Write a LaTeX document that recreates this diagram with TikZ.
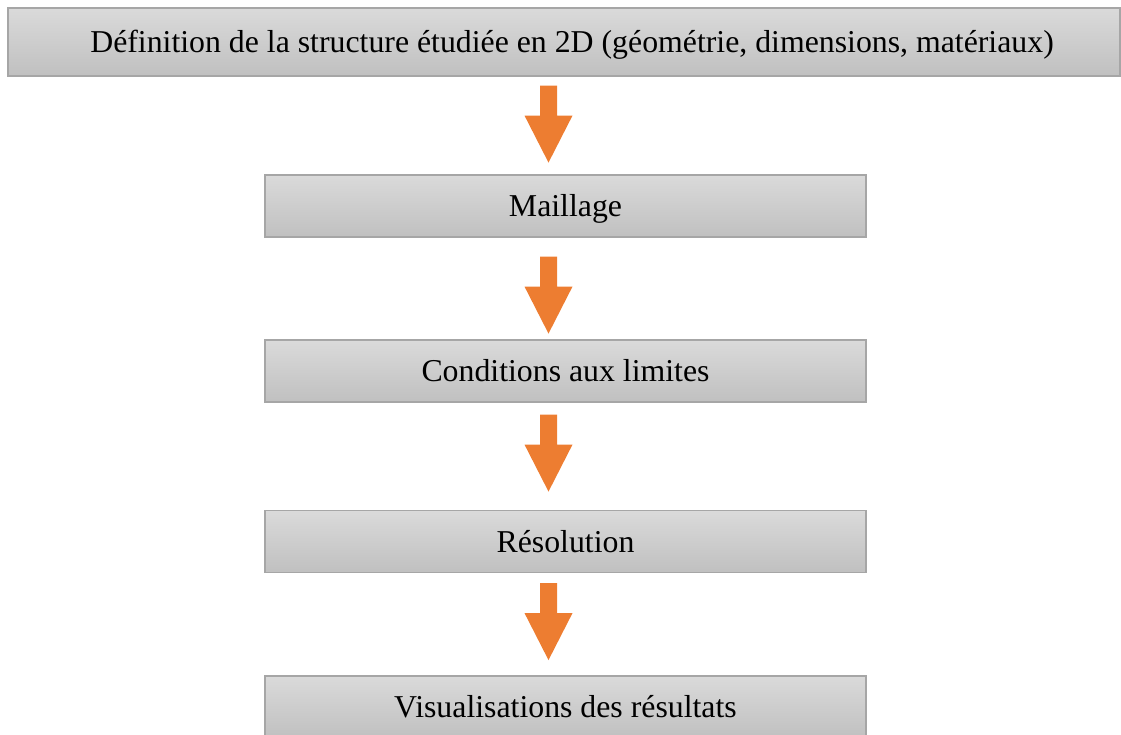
\documentclass[tikz,border=0pt]{standalone}
\usepackage{fontspec}
\setmainfont{Liberation Serif}
\usetikzlibrary{calc}
\definecolor{boxtop}{HTML}{DADADA}
\definecolor{boxbot}{HTML}{C0C0C0}
\definecolor{boxline}{HTML}{A6A6A6}
\definecolor{arrorange}{HTML}{ED7D31}
\begin{document}
\begin{tikzpicture}[x=1pt,y=1pt,
  stepbox/.style={rectangle, draw=boxline, line width=1.2pt, top color=boxtop, bottom color=boxbot,
    minimum height=62pt, inner sep=0pt, text height=24pt, text depth=2pt, font=\fontsize{31.8}{38}\selectfont},
  blockarr/.style={fill=arrorange, draw=none}]
\useasboundingbox (0,0) rectangle (1121,735);
\node[stepbox, minimum width=1112pt, minimum height=68pt] (n1) at (564,693) {\hspace*{16pt}Définition de la structure étudiée en 2D (géométrie, dimensions, matériaux)};
\node[stepbox, minimum width=601pt] (n2) at (565.5,529) {Maillage};
\node[stepbox, minimum width=601pt] (n3) at (565.5,364) {Conditions aux limites};
\node[stepbox, minimum width=601pt] (n4) at (565.5,193.5) {Résolution};
\node[stepbox, minimum width=601pt] (n5) at (565.5,28) {Visualisations des résultats};
\foreach \a/\b/\g in {n1/n2/9,n2/n3/19,n3/n4/12,n4/n5/10}{
  \fill[blockarr] let \p1=(\a.south), \p2=(\b.north) in
    (540pt,\y1-\g pt) -- (557pt,\y1-\g pt) -- (557pt,\y1-\g pt-30pt) -- (572.5pt,\y1-\g pt-30pt)
    -- (548.5pt,\y1-\g pt-77pt) -- (524.5pt,\y1-\g pt-30pt) -- (540pt,\y1-\g pt-30pt) -- cycle;
}
\end{tikzpicture}
\end{document}
